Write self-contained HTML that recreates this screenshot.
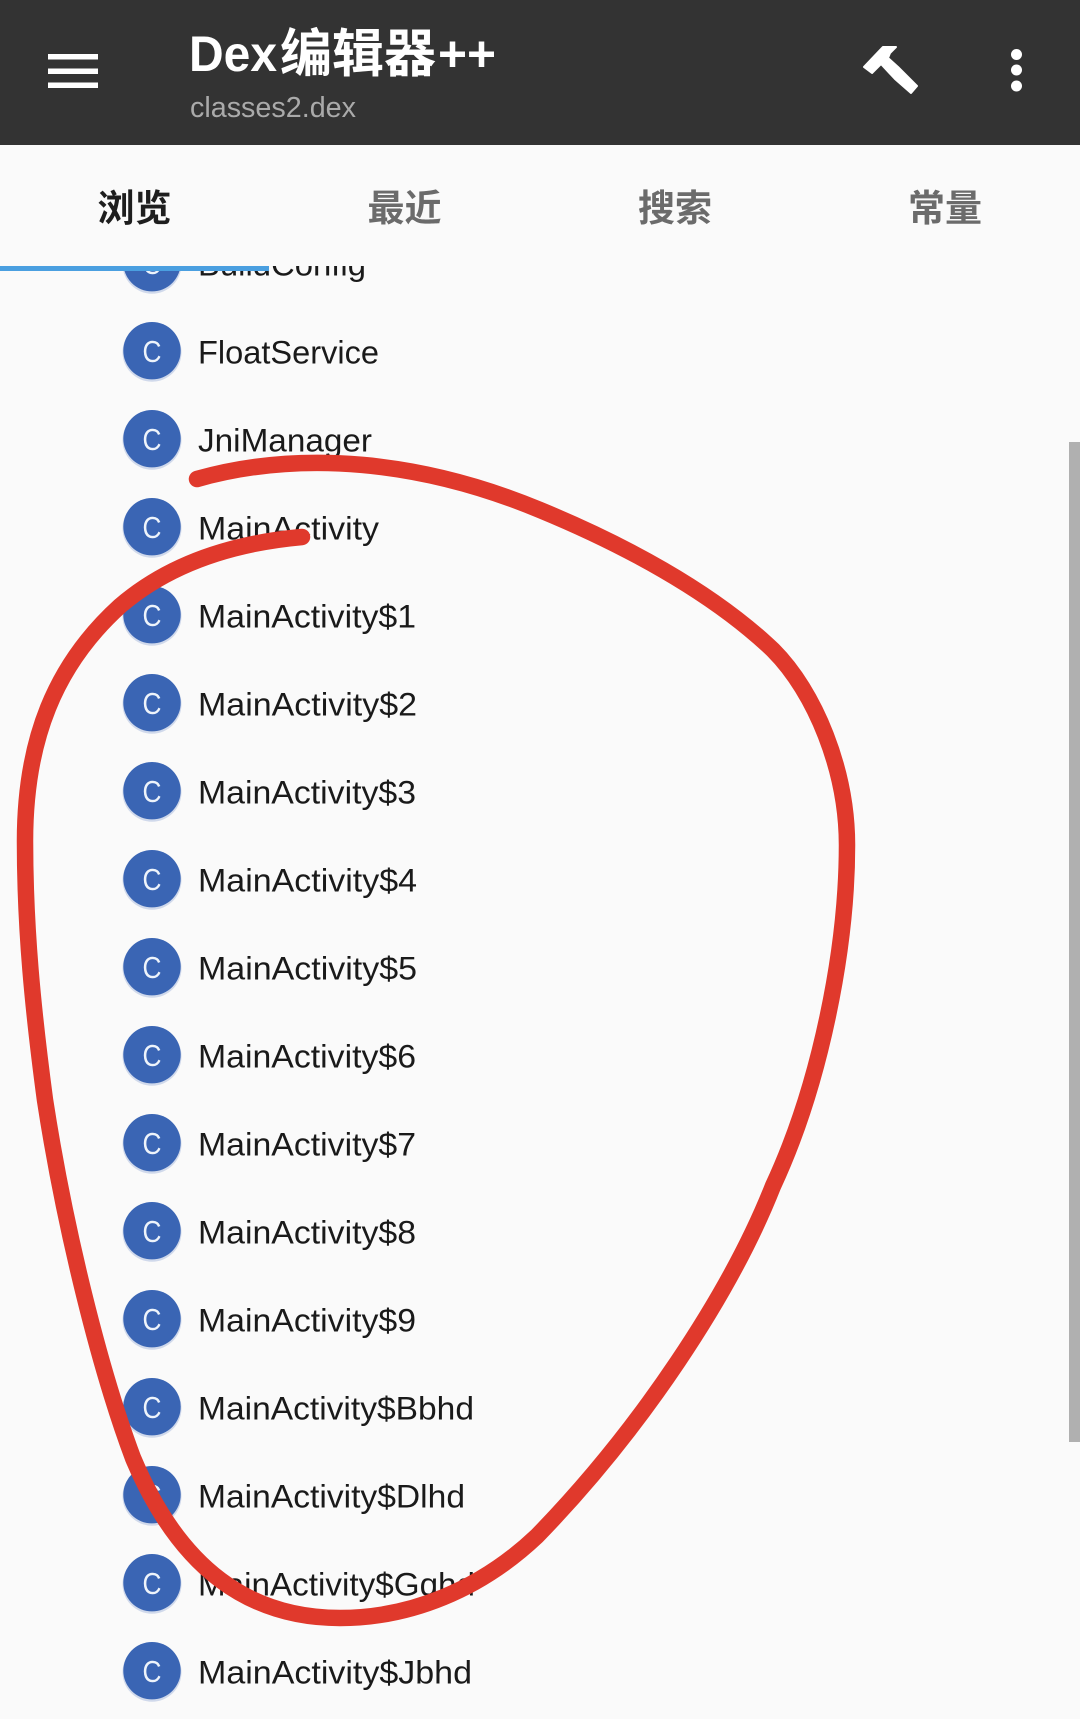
<!DOCTYPE html>
<html><head><meta charset="utf-8">
<style>
html,body{margin:0;padding:0;background:#fafafa}
svg{display:block}
.r{font-family:"Liberation Sans","Noto Sans CJK SC",sans-serif;font-size:32px;fill:#1a1a1a}
.c{font-family:"Liberation Sans",sans-serif;font-size:31px;fill:#eef4fb}
.t{font-family:"Liberation Sans","Noto Sans CJK SC",sans-serif;font-size:37px;font-weight:700;text-anchor:middle;fill:#6b6b6b}
</style></head>
<body>
<svg width="1080" height="1719" viewBox="0 0 1080 1719" xmlns="http://www.w3.org/2000/svg">
<defs>
<g id="b"><circle cx="152" cy="1.5" r="29.5" fill="#3b66b5" opacity=".22"/><circle cx="152" cy="0" r="28.7" fill="#3a65b4"/><text class="c" x="142.5" y="11.5" textLength="19" lengthAdjust="spacingAndGlyphs">C</text></g>
</defs>
<rect width="1080" height="1719" fill="#fafafa"/>

<!-- list -->
<use href="#b" y="262.7"/><text class="r" x="198" y="275.3" textLength="168" lengthAdjust="spacingAndGlyphs">BuildConfig</text>
<use href="#b" y="350.7"/><text class="r" x="198" y="363.3" textLength="181" lengthAdjust="spacingAndGlyphs">FloatService</text>
<use href="#b" y="438.7"/><text class="r" x="198" y="451.3" textLength="174" lengthAdjust="spacingAndGlyphs">JniManager</text>
<use href="#b" y="526.7"/><text class="r" x="198" y="539.3" textLength="181" lengthAdjust="spacingAndGlyphs">MainActivity</text>
<use href="#b" y="614.7"/><text class="r" x="198" y="627.3" textLength="218" lengthAdjust="spacingAndGlyphs">MainActivity$1</text>
<use href="#b" y="702.7"/><text class="r" x="198" y="715.3" textLength="219" lengthAdjust="spacingAndGlyphs">MainActivity$2</text>
<use href="#b" y="790.7"/><text class="r" x="198" y="803.3" textLength="218" lengthAdjust="spacingAndGlyphs">MainActivity$3</text>
<use href="#b" y="878.7"/><text class="r" x="198" y="891.3" textLength="219" lengthAdjust="spacingAndGlyphs">MainActivity$4</text>
<use href="#b" y="966.7"/><text class="r" x="198" y="979.3" textLength="219" lengthAdjust="spacingAndGlyphs">MainActivity$5</text>
<use href="#b" y="1054.7"/><text class="r" x="198" y="1067.3" textLength="218" lengthAdjust="spacingAndGlyphs">MainActivity$6</text>
<use href="#b" y="1142.7"/><text class="r" x="198" y="1155.3" textLength="218" lengthAdjust="spacingAndGlyphs">MainActivity$7</text>
<use href="#b" y="1230.7"/><text class="r" x="198" y="1243.3" textLength="218" lengthAdjust="spacingAndGlyphs">MainActivity$8</text>
<use href="#b" y="1318.7"/><text class="r" x="198" y="1331.3" textLength="218" lengthAdjust="spacingAndGlyphs">MainActivity$9</text>
<use href="#b" y="1406.7"/><text class="r" x="198" y="1419.3" textLength="276" lengthAdjust="spacingAndGlyphs">MainActivity$Bbhd</text>
<use href="#b" y="1494.7"/><text class="r" x="198" y="1507.3" textLength="267" lengthAdjust="spacingAndGlyphs">MainActivity$Dlhd</text>
<use href="#b" y="1582.7"/><text class="r" x="198" y="1595.3" textLength="277" lengthAdjust="spacingAndGlyphs">MainActivity$Gqhd</text>
<use href="#b" y="1670.7"/><text class="r" x="198" y="1683.3" textLength="274" lengthAdjust="spacingAndGlyphs">MainActivity$Jbhd</text>

<!-- tabs background -->
<rect x="0" y="145" width="1080" height="121" fill="#fafafa"/>
<rect x="0" y="266" width="269" height="5" fill="#4a9fe0"/>
<text class="t" x="134.5" y="221" style="fill:#1e1e1e">浏览</text>
<text class="t" x="404.5" y="221">最近</text>
<text class="t" x="675" y="221">搜索</text>
<text class="t" x="945" y="221">常量</text>

<!-- header -->
<rect x="0" y="0" width="1080" height="145" fill="#333333"/>
<rect x="48" y="54" width="50" height="5.5" fill="#fff"/>
<rect x="48" y="68.5" width="50" height="5.5" fill="#fff"/>
<rect x="48" y="82.5" width="50" height="5.5" fill="#fff"/>
<text x="189" y="71" font-family="'Liberation Sans',sans-serif" font-size="50" font-weight="700" fill="#fff" textLength="88" lengthAdjust="spacingAndGlyphs">Dex</text>
<text x="280" y="72" font-family="'Noto Sans CJK SC',sans-serif" font-size="52" font-weight="700" fill="#fff" textLength="156" lengthAdjust="spacingAndGlyphs">编辑器</text>
<text x="438" y="71" font-family="'Liberation Sans',sans-serif" font-size="50" font-weight="700" fill="#fff" textLength="58" lengthAdjust="spacingAndGlyphs">++</text>
<text x="190" y="117" font-family="'Liberation Sans',sans-serif" font-size="29" fill="#aaaaaa" textLength="166" lengthAdjust="spacingAndGlyphs">classes2.dex</text>
<polygon points="864,67 883,47 896,47 890,53 888,58 898,67 917,86 911,93 895,79 881,64 872,73" fill="#fff" stroke="#fff" stroke-width="2" stroke-linejoin="round"/>
<circle cx="1016.5" cy="54.5" r="5.5" fill="#fff"/>
<circle cx="1016.5" cy="70" r="5.5" fill="#fff"/>
<circle cx="1016.5" cy="86" r="5.5" fill="#fff"/>

<!-- scrollbar -->
<rect x="1069" y="442" width="11" height="1000" fill="#b0b0b0"/>

<!-- red scribble -->
<path d="M197 479 C300 450 420 460 540 510 C620 543 710 590 773 650 C815 692 847 770 847 845 C847 950 820 1085 773 1186 C730 1295 640 1430 537 1536 C480 1590 410 1618 340 1618 C250 1618 180 1570 133 1458 C100 1370 65 1230 45 1100 C33 1010 25 930 25 841 C25 740 55 665 120 606 C170 563 235 543 302 537" fill="none" stroke="#e0392c" stroke-width="16.5" stroke-linecap="round" stroke-linejoin="round"/>
</svg>
</body></html>
